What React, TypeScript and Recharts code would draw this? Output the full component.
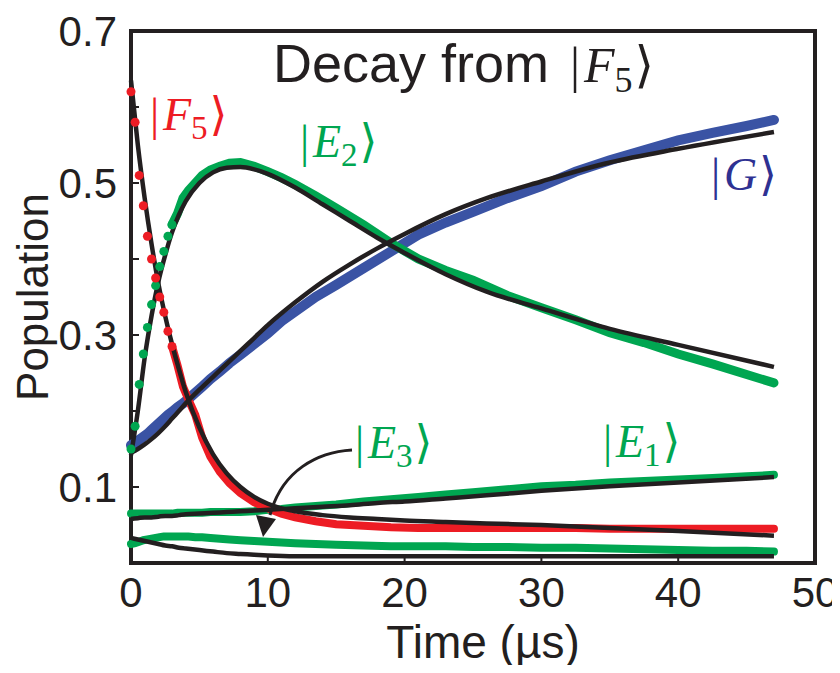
import React from 'react';
import { LineChart, Line, XAxis, YAxis, ReferenceArea } from 'recharts';

// measured data (dots in the figure)
const tData = [0, 0.3, 0.6, 0.9, 1.2, 1.5, 1.8, 2.1, 2.4, 2.7, 3.0, 3.4, 3.8, 4.2, 4.7, 5.2, 5.8, 6.5, 7.2, 8, 9, 10, 11, 12, 13.5, 15, 17, 19, 21, 23, 25, 27.5, 30, 32.5, 35, 37.5, 40, 42.5, 45, 47];
const f5Data = [0.62, 0.58, 0.51, 0.47, 0.43, 0.4, 0.375, 0.35, 0.33, 0.305, 0.285, 0.26, 0.232, 0.215, 0.195, 0.165, 0.14, 0.12, 0.105, 0.092, 0.08, 0.072, 0.065, 0.06, 0.055, 0.051, 0.049, 0.047, 0.046, 0.046, 0.046, 0.046, 0.046, 0.046, 0.045, 0.045, 0.045, 0.045, 0.045, 0.045];
const e2Data = [0.15, 0.18, 0.235, 0.275, 0.31, 0.34, 0.365, 0.39, 0.41, 0.43, 0.445, 0.46, 0.48, 0.49, 0.5, 0.51, 0.517, 0.522, 0.526, 0.527, 0.522, 0.515, 0.507, 0.498, 0.483, 0.467, 0.445, 0.421, 0.4, 0.385, 0.372, 0.352, 0.336, 0.32, 0.303, 0.29, 0.275, 0.262, 0.248, 0.237];
const gData = [0.155, 0.158, 0.162, 0.166, 0.17, 0.175, 0.18, 0.185, 0.19, 0.195, 0.199, 0.205, 0.21, 0.216, 0.224, 0.232, 0.242, 0.252, 0.263, 0.274, 0.288, 0.302, 0.318, 0.331, 0.35, 0.366, 0.388, 0.41, 0.432, 0.448, 0.462, 0.48, 0.496, 0.515, 0.53, 0.543, 0.556, 0.566, 0.575, 0.583];
const e1Data = [0.065, 0.065, 0.065, 0.065, 0.065, 0.065, 0.065, 0.065, 0.065, 0.065, 0.065, 0.066, 0.066, 0.066, 0.066, 0.066, 0.067, 0.067, 0.067, 0.067, 0.068, 0.07, 0.071, 0.073, 0.075, 0.077, 0.081, 0.084, 0.087, 0.09, 0.093, 0.097, 0.101, 0.103, 0.106, 0.108, 0.11, 0.112, 0.114, 0.116];
const e3Data = [0.025, 0.026, 0.028, 0.03, 0.031, 0.032, 0.033, 0.034, 0.035, 0.035, 0.035, 0.035, 0.035, 0.035, 0.034, 0.034, 0.033, 0.032, 0.031, 0.03, 0.029, 0.028, 0.027, 0.026, 0.025, 0.024, 0.023, 0.022, 0.022, 0.022, 0.021, 0.021, 0.02, 0.02, 0.019, 0.018, 0.017, 0.016, 0.016, 0.015];

// fitted curves (black)
const tFit = [0, 0.5, 1, 1.5, 2, 2.5, 3, 3.5, 4, 5, 6, 7, 8, 9, 10, 12, 14, 16, 18, 20, 23, 26, 30, 35, 40, 47];
const f5Fit = [0.635, 0.55, 0.48, 0.42, 0.368, 0.325, 0.288, 0.255, 0.225, 0.178, 0.143, 0.118, 0.1, 0.087, 0.078, 0.068, 0.063, 0.06, 0.058, 0.056, 0.054, 0.052, 0.05, 0.046, 0.042, 0.036];
const e2Fit = [0.142, 0.2, 0.27, 0.325, 0.37, 0.405, 0.435, 0.458, 0.476, 0.5, 0.514, 0.52, 0.521, 0.518, 0.512, 0.494, 0.472, 0.45, 0.428, 0.408, 0.38, 0.357, 0.335, 0.308, 0.287, 0.258];
const gFit = [0.145, 0.15, 0.156, 0.163, 0.171, 0.18, 0.19, 0.2, 0.21, 0.228, 0.245, 0.262, 0.279, 0.296, 0.313, 0.343, 0.37, 0.393, 0.414, 0.433, 0.459, 0.48, 0.502, 0.527, 0.545, 0.567];
const e1Fit = [0.058, 0.059, 0.06, 0.06, 0.061, 0.062, 0.062, 0.063, 0.064, 0.065, 0.066, 0.067, 0.068, 0.069, 0.07, 0.072, 0.074, 0.076, 0.079, 0.081, 0.085, 0.089, 0.095, 0.101, 0.106, 0.113];
const e3Fit = [0.033, 0.031, 0.029, 0.027, 0.025, 0.023, 0.022, 0.02, 0.019, 0.017, 0.015, 0.013, 0.012, 0.011, 0.01, 0.009, 0.009, 0.009, 0.009, 0.009, 0.009, 0.009, 0.009, 0.009, 0.009, 0.009];

const xTicks = [0, 10, 20, 30, 40, 50];
const yTicks = [0.1, 0.2, 0.3, 0.4, 0.5, 0.6, 0.7];
const yLabels = [0.1, 0.3, 0.5, 0.7];

const INK = '#231f20';
const RED = '#ed1c24';
const GREEN = '#00a651';
const BLUE = '#3a53a4';
const BLUE_TXT = '#2e3192';
const SANS = "'Liberation Sans', Arial, sans-serif";
const SERIF = "'Liberation Serif', 'DejaVu Serif', serif";

const W = 824;
const H = 657;

const pts = (ts: number[], vs: number[]) => ts.map((t, i) => ({ t, v: vs[i] }));

const XTick = (props: any) => {
  const { x, y, payload } = props;
  return (
    <g>
      <line x1={x} x2={x} y1={y} y2={y - 8} stroke={INK} strokeWidth={2} />
      <text x={x} y={y + 44} textAnchor="middle" fontSize={42} fontFamily={SANS} fill={INK}>
        {payload.value}
      </text>
    </g>
  );
};

const YTick = (props: any) => {
  const { x, y, payload } = props;
  const v = payload.value;
  const show = yLabels.some((l) => Math.abs(l - v) < 1e-6);
  return (
    <g>
      {v < 0.69 && <line x1={x} x2={x + 8} y1={y} y2={y} stroke={INK} strokeWidth={2} />}
      {show && (
        <text x={x - 14} y={y} dy="0.36em" textAnchor="end" fontSize={42} fontFamily={SANS} fill={INK}>
          {v.toFixed(1)}
        </text>
      )}
    </g>
  );
};

const Ket = ({ x, y, letter, sub, color, size }: any) => (
  <text x={x} y={y} fill={color} fontSize={size} fontFamily={SERIF}>
    <tspan>|</tspan>
    <tspan fontStyle="italic" dx={size * 0.08}>{letter}</tspan>
    {sub && (
      <tspan dy={size * 0.2} fontSize={size * 0.72}>{sub}</tspan>
    )}
    <tspan dy={sub ? -size * 0.2 : 0} dx={size * 0.04}>{'\u27E9'}</tspan>
  </text>
);

export default function App() {
  const f5 = pts(tData, f5Data);
  const e2 = pts(tData, e2Data);
  const early = (d: { t: number; v: number }[]) => d.filter((p) => p.t <= 3.0);
  const late = (d: { t: number; v: number }[]) => d.filter((p) => p.t >= 3.0);

  return (
    <div style={{ position: 'relative', width: W, height: H, overflow: 'visible' }}>
      <style>{'.recharts-surface{overflow:visible;display:block}'}</style>
      <LineChart width={W} height={H} margin={{ top: 23, right: 17, bottom: 0, left: 0 }}>
        <XAxis
          type="number"
          dataKey="t"
          domain={[0, 50]}
          ticks={xTicks}
          height={102}
          tickSize={0}
          tickMargin={0}
          axisLine={false}
          tick={<XTick />}
          interval={0}
        />
        <YAxis
          type="number"
          dataKey="v"
          domain={[0, 0.7]}
          ticks={yTicks}
          width={123}
          tickSize={0}
          tickMargin={0}
          axisLine={false}
          tick={<YTick />}
          interval={0}
        />

        {/* data */}
        <Line data={pts(tData, gData)} dataKey="v" stroke={BLUE} strokeWidth={10} dot={false} strokeLinecap="round" isAnimationActive={false} />
        <Line data={late(e2)} dataKey="v" stroke={GREEN} strokeWidth={9} dot={false} strokeLinecap="round" isAnimationActive={false} />
        <Line data={early(e2)} dataKey="v" stroke="none" dot={{ r: 4.5, fill: GREEN, stroke: 'none' }} isAnimationActive={false} />
        <Line data={pts(tData, e1Data)} dataKey="v" stroke={GREEN} strokeWidth={8} dot={false} strokeLinecap="round" isAnimationActive={false} />
        <Line data={pts(tData, e3Data)} dataKey="v" stroke={GREEN} strokeWidth={8} dot={false} strokeLinecap="round" isAnimationActive={false} />
        <Line data={late(f5)} dataKey="v" stroke={RED} strokeWidth={8} dot={false} strokeLinecap="round" isAnimationActive={false} />
        <Line data={early(f5)} dataKey="v" stroke="none" dot={{ r: 4.5, fill: RED, stroke: 'none' }} isAnimationActive={false} />

        {/* fits */}
        <Line data={pts(tFit, gFit)} dataKey="v" type="monotone" stroke={INK} strokeWidth={4.5} dot={false} isAnimationActive={false} />
        <Line data={pts(tFit, e2Fit)} dataKey="v" type="monotone" stroke={INK} strokeWidth={4.5} dot={false} isAnimationActive={false} />
        <Line data={pts(tFit, e1Fit)} dataKey="v" type="monotone" stroke={INK} strokeWidth={4.5} dot={false} isAnimationActive={false} />
        <Line data={pts(tFit, e3Fit)} dataKey="v" type="monotone" stroke={INK} strokeWidth={4.5} dot={false} isAnimationActive={false} />
        <Line data={pts(tFit, f5Fit)} dataKey="v" type="monotone" stroke={INK} strokeWidth={4.5} dot={false} isAnimationActive={false} />

        <ReferenceArea x1={0} x2={50} y1={0} y2={0.7} fill="none" fillOpacity={0} stroke={INK} strokeWidth={4} />
      </LineChart>

      <svg width={W} height={H} style={{ position: 'absolute', left: 0, top: 0, pointerEvents: 'none', overflow: 'visible' }}>
        <text x={265} y={74} fontSize={54} fontFamily={SANS} fill={INK}>Decay from</text>
        <Ket x={562} y={74} letter="F" sub="5" color={INK} size={50} />

        <Ket x={142} y={122} letter="F" sub="5" color={RED} size={46} />
        <Ket x={292} y={149} letter="E" sub="2" color={GREEN} size={46} />
        <Ket x={703} y={182} letter="G" color={BLUE_TXT} size={46} />
        <Ket x={347} y={450} letter="E" sub="3" color={GREEN} size={46} />
        <Ket x={595} y={449} letter="E" sub="1" color={GREEN} size={46} />

        <path d="M 344 442 C 310 444, 274 462, 262 507" fill="none" stroke={INK} strokeWidth={3} />
        <polygon points="248,507 268,511 255,529" fill={INK} />

        <text x={475} y={650} textAnchor="middle" fontSize={46} fontFamily={SANS} fill={INK}>Time (µs)</text>
        <text x={40} y={289} textAnchor="middle" fontSize={44} fontFamily={SANS} fill={INK} transform="rotate(-90, 40, 289)">Population</text>
      </svg>
    </div>
  );
}
